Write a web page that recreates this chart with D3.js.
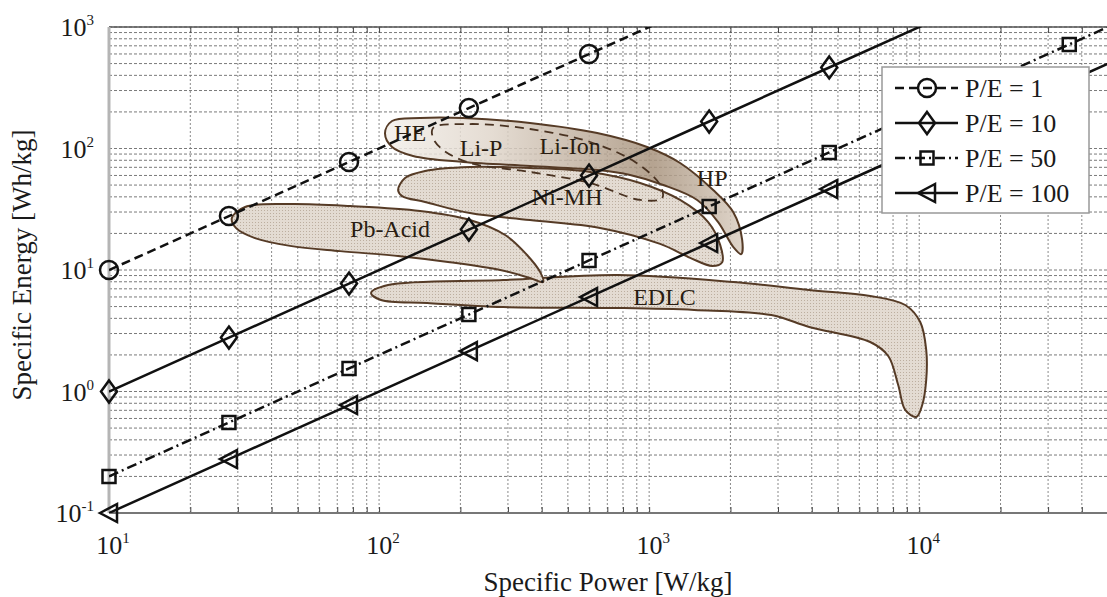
<!DOCTYPE html>
<html>
<head>
<meta charset="utf-8">
<script src="https://cdn.jsdelivr.net/npm/d3@7"></script>
<style>
  body { margin: 0; background: #fff; }
  text { font-family: "Liberation Serif", "Times New Roman", serif; fill: #1a1a1a; }
</style>
</head>
<body>
<svg id="chart" width="1107" height="597"></svg>
<script>
// marker positions along the power axis (W/kg)
var power = [10, 27.8, 77.4, 215, 599, 1668, 4642, 12915, 35938, 100000];

// specific energy (Wh/kg) at those powers, one list per P/E ratio
var energyPE1   = [10, 27.8, 77.4, 215, 599, 1668, 4642, 12915, 35938, 100000];
var energyPE10  = [1, 2.78, 7.74, 21.5, 59.9, 166.8, 464.2, 1291.5, 3593.8, 10000];
var energyPE50  = [0.2, 0.556, 1.548, 4.3, 11.98, 33.36, 92.84, 258.3, 718.8, 2000];
var energyPE100 = [0.1, 0.278, 0.774, 2.15, 5.99, 16.68, 46.42, 129.15, 359.4, 1000];

var seriesNames = ["P/E = 1", "P/E = 10", "P/E = 50", "P/E = 100"];

// technology regions, outline points as [power, energy]
var regionPbAcid = [[28.5,26.8],[31.9,33.0],[46.8,34.9],[78.1,33.6],[141.9,30.6],[217,25.8],[293,19.4],[353,13.3],
  [395,9.6],[405,7.96],[362,8.6],[281,10.0],[183,11.6],[119.6,13.0],[71.7,14.3],[46.8,15.8],[34.7,18.3],[29.5,22.2]];
var regionNiMH = [[117.6,45.5],[124.8,57.2],[148.1,65.3],[217,70.4],[362,69.1],[605,64.1],[926,52.0],[1302,37.7],
  [1654,24.8],[1832,16.1],[1864,11.6],[1712,10.8],[1419,12.6],[1098,16.4],[658,22.2],[362,25.8],[217,29.4],[148,36.3],[121.7,40.6]];
var regionLiIon = [[105.2,134],[111.7,168.4],[141.9,178.2],[204.7,178.2],[362,162.2],[642,134],[983,102.9],[1302,76],
  [1726,45.5],[2047,30.0],[2210,17.7],[2192,13.5],[2047,15.5],[1801,24.8],[1506,37.7],[1127,50.1],[850,60.5],[642,66.5],
  [362,71.8],[205,77.4],[133.6,86.8],[111.7,102.9]];
var regionLiP = [[158.5,147.5],[217,159],[362,144.7],[605,113.1],[887,77.4],[1098,50.1],[1117,39.1],[926,37.7],
  [605,52.0],[362,64.1],[217,76],[172.6,97.2],[158.5,122]];
var regionEDLC = [[93.4,6.47],[108,7.52],[288,8.27],[768,9.1],[2047,7.96],[3914,6.84],[6583,6.11],[8874,5.15],
  [10086,3.73],[10614,2.20],[10614,1.243],[10259,0.774],[9747,0.617],[8874,0.705],[8358,1.131],[7678,1.96],[6583,2.555],
  [3914,3.40],[2831,4.26],[1468,4.69],[768,4.87],[288,4.96],[150.6,5.35],[101.7,5.66]];

var labelNames  = ["HE", "Li-P", "Li-Ion", "Ni-MH", "HP", "Pb-Acid", "EDLC"];
var labelPower  = [130.3, 238.7, 510, 497, 1712, 109.8, 1140];
var labelEnergy = [134, 101, 105, 39.9, 57.2, 21.8, 6.0];

var xTickLabels = [10, 100, 1000, 10000];
var yTickLabels = [0.1, 1, 10, 100, 1000];

(function () {
  var svg = d3.select("#chart");
  var pL = 109, pR = 1108, pT = 27, pB = 513;

  var x = d3.scaleLog().domain([10, 5e4]).range([pL, pR]);
  var y = d3.scaleLog().domain([0.1, 1000]).range([pB, pT]);

  var defs = svg.append("defs");
  defs.append("clipPath").attr("id", "plotclip")
    .append("rect").attr("x", pL).attr("y", pT).attr("width", pR - pL).attr("height", pB - pT);

  var pat = defs.append("pattern").attr("id", "dots").attr("patternUnits", "userSpaceOnUse")
    .attr("width", 3).attr("height", 3);
  pat.append("rect").attr("width", 3).attr("height", 3).attr("fill", "#e3dbd2");
  pat.append("rect").attr("width", 1).attr("height", 1).attr("fill", "#bcae9f");

  var grad = defs.append("linearGradient").attr("id", "liion").attr("gradientUnits", "userSpaceOnUse")
    .attr("x1", 385).attr("x2", 742).attr("y1", 0).attr("y2", 0);
  grad.append("stop").attr("offset", "0").attr("stop-color", "#f3efea");
  grad.append("stop").attr("offset", "0.3").attr("stop-color", "#e0d6cb");
  grad.append("stop").attr("offset", "0.75").attr("stop-color", "#a8937d");
  grad.append("stop").attr("offset", "1").attr("stop-color", "#d9cdc0");

  // grid
  var grid = svg.append("g");
  grid.selectAll(".gx").data(x.ticks()).enter().append("line")
    .attr("x1", function (d) { return x(d); }).attr("x2", function (d) { return x(d); })
    .attr("y1", pT).attr("y2", pB)
    .attr("stroke", "#8a8a8a").attr("stroke-width", 1).attr("stroke-dasharray", "2,2");
  grid.selectAll(".gy").data(y.ticks()).enter().append("line")
    .attr("y1", function (d) { return y(d); }).attr("y2", function (d) { return y(d); })
    .attr("x1", pL).attr("x2", pR)
    .attr("stroke", "#7a7a7a").attr("stroke-width", 1).attr("stroke-dasharray", "3,2");

  // small inward ticks on the bottom and top
  var xAxisB = d3.axisBottom(x).tickSizeInner(-6).tickSizeOuter(0).tickFormat("");
  svg.append("g").attr("transform", "translate(0," + pB + ")").call(xAxisB)
    .call(function (g) { g.select(".domain").remove(); g.selectAll("line").attr("stroke", "#444"); });
  var xAxisT = d3.axisTop(x).tickSizeInner(-6).tickSizeOuter(0).tickFormat("");
  svg.append("g").attr("transform", "translate(0," + pT + ")").call(xAxisT)
    .call(function (g) { g.select(".domain").remove(); g.selectAll("line").attr("stroke", "#444"); });

  // frame
  svg.append("line").attr("x1", pL).attr("x2", pR).attr("y1", pB).attr("y2", pB).attr("stroke", "#777").attr("stroke-width", 2);
  svg.append("line").attr("x1", pL).attr("x2", pR).attr("y1", pT).attr("y2", pT).attr("stroke", "#555").attr("stroke-width", 1.5);
  svg.append("line").attr("x1", pL).attr("x2", pL).attr("y1", pT).attr("y2", pB).attr("stroke", "#b5b5b5").attr("stroke-width", 3);

  // regions
  var area = d3.line()
    .x(function (d) { return x(d[0]); })
    .y(function (d) { return y(d[1]); })
    .curve(d3.curveCatmullRomClosed.alpha(0.5));
  var regions = svg.append("g").attr("clip-path", "url(#plotclip)");
  regions.append("path").attr("d", area(regionEDLC)).attr("fill", "url(#dots)").attr("stroke", "#563b26").attr("stroke-width", 2);
  regions.append("path").attr("d", area(regionPbAcid)).attr("fill", "url(#dots)").attr("stroke", "#563b26").attr("stroke-width", 2);
  regions.append("path").attr("d", area(regionNiMH)).attr("fill", "url(#dots)").attr("stroke", "#563b26").attr("stroke-width", 2);
  regions.append("path").attr("d", area(regionLiIon)).attr("fill", "url(#liion)").attr("fill-opacity", 0.85)
    .attr("stroke", "#563b26").attr("stroke-width", 2);
  regions.append("path").attr("d", area(regionLiP)).attr("fill", "none").attr("stroke", "#4a3322")
    .attr("stroke-width", 1.8).attr("stroke-dasharray", "9,6");

  // region labels
  svg.selectAll(".rl").data(labelNames).enter().append("text")
    .attr("x", function (d, i) { return x(labelPower[i]); })
    .attr("y", function (d, i) { return y(labelEnergy[i]); })
    .attr("dy", "0.35em").attr("text-anchor", "middle")
    .style("font-size", "24px").style("fill", "#2a1d12")
    .text(function (d) { return d; });

  // P/E lines
  var energies = [energyPE1, energyPE10, energyPE50, energyPE100];
  var dashes = ["9,5", null, "10,4,2,4", null];
  var line = d3.line()
    .x(function (d) { return x(d[0]); })
    .y(function (d) { return y(d[1]); });
  var lines = svg.append("g").attr("clip-path", "url(#plotclip)");
  energies.forEach(function (en, k) {
    var pts = power.map(function (p, i) { return [p, en[i]]; });
    lines.append("path").attr("d", line(pts)).attr("fill", "none")
      .attr("stroke", "#111").attr("stroke-width", 2.5)
      .attr("stroke-dasharray", dashes[k]);
  });

  var markerPath = [
    null,
    "M0,-11L8,0L0,11L-8,0Z",
    "M-6.5,-6.5H6.5V6.5H-6.5Z",
    "M-9,0L8,-9L8,9Z"
  ];
  function drawMarker(g, k, cx, cy) {
    if (k === 0) {
      g.append("circle").attr("cx", cx).attr("cy", cy).attr("r", 9)
        .attr("fill", "none").attr("stroke", "#111").attr("stroke-width", 2.5);
    } else {
      g.append("path").attr("d", markerPath[k]).attr("transform", "translate(" + cx + "," + cy + ")")
        .attr("fill", "none").attr("stroke", "#111").attr("stroke-width", 2.5);
    }
  }
  var marks = svg.append("g");
  energies.forEach(function (en, k) {
    power.forEach(function (p, i) {
      if (p <= 5e4 && en[i] <= 1000) drawMarker(marks, k, x(p), y(en[i]));
    });
  });

  // tick labels
  function sup(sel, v) {
    var e = Math.round(Math.log10(v));
    sel.append("tspan").text("10");
    sel.append("tspan").attr("dy", -11).style("font-size", "15px").text(e);
  }
  svg.selectAll(".xl").data(xTickLabels).enter().append("text")
    .attr("x", function (d) { return x(d) + 4; }).attr("y", 554)
    .attr("text-anchor", "middle").style("font-size", "26px")
    .each(function (d) { sup(d3.select(this), d); });
  svg.selectAll(".yl").data(yTickLabels).enter().append("text")
    .attr("x", 94).attr("y", function (d) { return y(d) + 9; })
    .attr("text-anchor", "end").style("font-size", "26px")
    .each(function (d) { sup(d3.select(this), d); });

  // axis titles
  svg.append("text").attr("x", 608).attr("y", 591).attr("text-anchor", "middle")
    .style("font-size", "27px").text("Specific Power [W/kg]");
  svg.append("text").attr("transform", "translate(31," + 265 + ") rotate(-90)")
    .attr("text-anchor", "middle").style("font-size", "27px").text("Specific Energy [Wh/kg]");

  // legend
  var lg = svg.append("g");
  lg.append("rect").attr("x", 882).attr("y", 67).attr("width", 207).attr("height", 146)
    .attr("fill", "#fff").attr("stroke", "#999").attr("stroke-width", 1.5);
  seriesNames.forEach(function (name, k) {
    var ly = 88 + k * 35;
    lg.append("line").attr("x1", 895).attr("x2", 958).attr("y1", ly).attr("y2", ly)
      .attr("stroke", "#111").attr("stroke-width", 2.5).attr("stroke-dasharray", dashes[k]);
    drawMarker(lg, k, 927, ly);
    lg.append("text").attr("x", 965).attr("y", ly + 9).style("font-size", "26px").text(name);
  });
})();
</script>
</body>
</html>
